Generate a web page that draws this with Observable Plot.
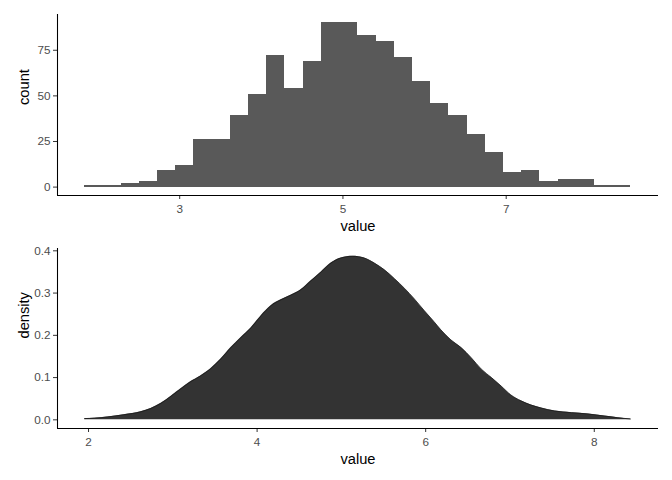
<!DOCTYPE html>
<html>
<head>
<meta charset="utf-8">
<script src="https://cdn.jsdelivr.net/npm/d3@7"></script>
<script src="https://cdn.jsdelivr.net/npm/@observablehq/plot@0.6"></script>
<style>
  html, body { margin: 0; padding: 0; background: #fff; }
  #chart svg { display: block; }
</style>
</head>
<body>
<div id="chart"></div>
<script>
// Histogram (30 bins)
const binStart = 1.836;
const binWidth = 0.2231;
const counts = [1, 1, 2, 3, 9, 12, 26, 26, 39, 51, 72, 54, 69, 90, 90,
                83, 80, 71, 58, 46, 39, 29, 19, 8, 9, 3, 4, 4, 1, 1];
const histTicks = [3, 5, 7];
const countTicks = [0, 25, 50, 75];

// Density curve
const densityX = [1.956, 2.07, 2.23, 2.42, 2.62, 2.74, 2.86, 2.98, 3.10, 3.21, 3.33, 3.45, 3.57, 3.69, 3.81, 3.93,
                  4.046, 4.165, 4.283, 4.40, 4.52, 4.64, 4.76, 4.877, 4.996, 5.135, 5.27, 5.39, 5.51, 5.63, 5.75,
                  5.866, 5.985, 6.10, 6.18, 6.30, 6.42, 6.54, 6.66, 6.78, 6.895, 7.01, 7.13, 7.25, 7.37, 7.53,
                  7.73, 7.925, 8.12, 8.28, 8.43];
const densityY = [0.003, 0.004, 0.007, 0.012, 0.019, 0.027, 0.039, 0.056, 0.074, 0.090, 0.104, 0.121, 0.144, 0.171, 0.195, 0.218,
                  0.246, 0.270, 0.284, 0.295, 0.308, 0.329, 0.350, 0.371, 0.383, 0.387, 0.383, 0.371, 0.355, 0.334, 0.311,
                  0.286, 0.258, 0.232, 0.213, 0.189, 0.171, 0.147, 0.120, 0.100, 0.080, 0.059, 0.045, 0.035, 0.028, 0.021,
                  0.017, 0.014, 0.009, 0.005, 0.002];
const densTicks = [2, 4, 6, 8];
const densYTicks = [0.0, 0.1, 0.2, 0.3, 0.4];

const bins = counts.map((c, i) => ({x1: binStart + i * binWidth, x2: binStart + (i + 1) * binWidth, count: c}));
const dens = densityX.map((x, i) => ({x, y: densityY[i]}));

const FONT = "'Liberation Sans', Arial, sans-serif";
const tickFS = 11.73, titleFS = 14.67;

const xDom1 = [1.503, 8.866], yDom1 = [-4.6, 94.6];
const histChart = Plot.plot({
  width: 672, height: 240,
  marginTop: 14, marginBottom: 45, marginLeft: 57, marginRight: 14,
  style: {fontFamily: FONT, background: "#fff"},
  x: {domain: xDom1},
  y: {domain: yDom1},
  marks: [
    Plot.rectY(bins, {x1: "x1", x2: "x2", y1: 0, y2: "count", fill: "#595959", inset: 0, shapeRendering: "crispEdges"}),
    Plot.axisX({ticks: histTicks, tickSize: 4, tickPadding: 5, fontSize: tickFS, stroke: "#333", fill: "#4d4d4d", label: null, tickFormat: d => String(d)}),
    Plot.axisY({ticks: countTicks, tickSize: 4, tickPadding: 3, fontSize: tickFS, stroke: "#333", fill: "#4d4d4d", label: null}),
    Plot.ruleX([xDom1[0]], {stroke: "#000", strokeWidth: 1.07}),
    Plot.ruleY([yDom1[0]], {stroke: "#000", strokeWidth: 1.07}),
    Plot.text(["value"], {frameAnchor: "bottom", dy: 35.5, lineAnchor: "bottom", text: d => d, fontSize: titleFS, fill: "#000"}),
    Plot.text(["count"], {frameAnchor: "left", dx: -28.7, rotate: -90, lineAnchor: "bottom", text: d => d, fontSize: titleFS, fill: "#000"})
  ]
});

const xDom2 = [1.632, 8.762], yDom2 = [-0.0205, 0.4055];
const densChart = Plot.plot({
  width: 672, height: 240,
  marginTop: 8, marginBottom: 52, marginLeft: 57, marginRight: 14,
  style: {fontFamily: FONT, background: "#fff"},
  x: {domain: xDom2},
  y: {domain: yDom2},
  marks: [
    Plot.areaY(dens, {x: "x", y: "y", fill: "#333333", curve: "monotone-x"}),
    Plot.lineY(dens, {x: "x", y: "y", stroke: "#1a1a1a", strokeWidth: 0.8, curve: "monotone-x"}),
    Plot.axisX({ticks: densTicks, tickSize: 4, tickPadding: 5, fontSize: tickFS, stroke: "#333", fill: "#4d4d4d", label: null, tickFormat: d => String(d)}),
    Plot.axisY({ticks: densYTicks, tickSize: 4, tickPadding: 3, fontSize: tickFS, stroke: "#333", fill: "#4d4d4d", label: null, tickFormat: d => d.toFixed(1)}),
    Plot.ruleX([xDom2[0]], {stroke: "#000", strokeWidth: 1.07}),
    Plot.ruleY([yDom2[0]], {stroke: "#000", strokeWidth: 1.07}),
    Plot.text(["value"], {frameAnchor: "bottom", dy: 35.5, lineAnchor: "bottom", text: d => d, fontSize: titleFS, fill: "#000"}),
    Plot.text(["density"], {frameAnchor: "left", dx: -28.7, rotate: -90, lineAnchor: "bottom", text: d => d, fontSize: titleFS, fill: "#000"})
  ]
});

const el = document.getElementById("chart");
el.appendChild(histChart);
el.appendChild(densChart);
</script>
</body>
</html>
